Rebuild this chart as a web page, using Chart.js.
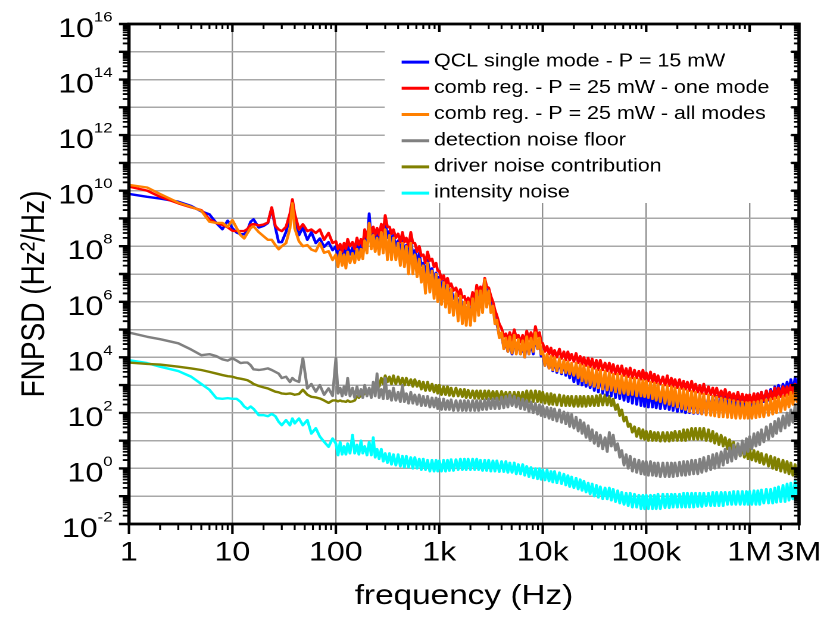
<!DOCTYPE html>
<html><head><meta charset="utf-8">
<script src="https://cdn.jsdelivr.net/npm/chart.js@4.4.1/dist/chart.umd.min.js"></script>
<style>
html,body{margin:0;padding:0;background:#fff;overflow:hidden;}
#wrap{width:692px;height:617px;transform:scaleX(1.19075);transform-origin:0 0;}
</style></head>
<body><div id="wrap"><canvas id="c" width="692" height="617"></canvas></div>
<script>
const frequencyHz = [
 1, 1.5, 2, 3, 4, 5, 6, 7, 8, 9,
 10, 11, 12, 13, 14, 15, 16, 18, 20, 22, 24, 26, 28, 30, 33, 36, 38,
 40, 44, 48, 53, 58, 64, 70, 77, 85, 93,
 100, 105, 110, 115, 120, 125, 130, 137, 145, 152,
 160, 167, 175, 182, 190, 200, 210, 220, 230, 240,
 250, 262, 275, 287, 300, 315, 330, 345, 360, 380,
 400, 420, 440, 460, 480, 505, 530, 555, 580, 610,
 640, 670, 700, 735, 770, 810, 850, 890, 930, 965,
 1.0e3, 1.05e3, 1.1e3, 1.15e3, 1.2e3, 1.25e3, 1.3e3, 1.37e3, 1.45e3, 1.52e3,
 1.6e3, 1.67e3, 1.75e3, 1.82e3, 1.9e3, 2.0e3, 2.1e3, 2.2e3, 2.3e3, 2.4e3,
 2.5e3, 2.62e3, 2.75e3, 2.87e3, 3.0e3, 3.15e3, 3.3e3, 3.45e3, 3.6e3, 3.8e3,
 4.0e3, 4.2e3, 4.4e3, 4.6e3, 4.8e3, 5.05e3, 5.3e3, 5.55e3, 5.8e3, 6.1e3,
 6.4e3, 6.7e3, 7.0e3, 7.35e3, 7.7e3, 8.1e3, 8.5e3, 8.9e3, 9.3e3, 9.65e3,
 1.0e4, 1.05e4, 1.1e4, 1.15e4, 1.2e4, 1.25e4, 1.3e4, 1.37e4, 1.45e4, 1.52e4,
 1.6e4, 1.67e4, 1.75e4, 1.82e4, 1.9e4, 2.0e4, 2.1e4, 2.2e4, 2.3e4, 2.4e4,
 2.5e4, 2.62e4, 2.75e4, 2.87e4, 3.0e4, 3.15e4, 3.3e4, 3.45e4, 3.6e4, 3.8e4,
 4.0e4, 4.2e4, 4.4e4, 4.6e4, 4.8e4, 5.05e4, 5.3e4, 5.55e4, 5.8e4, 6.1e4,
 6.4e4, 6.7e4, 7.0e4, 7.35e4, 7.7e4, 8.1e4, 8.5e4, 8.9e4, 9.3e4, 9.65e4,
 1.0e5, 1.05e5, 1.1e5, 1.15e5, 1.2e5, 1.25e5, 1.3e5, 1.37e5, 1.45e5, 1.52e5,
 1.6e5, 1.67e5, 1.75e5, 1.82e5, 1.9e5, 2.0e5, 2.1e5, 2.2e5, 2.3e5, 2.4e5,
 2.5e5, 2.62e5, 2.75e5, 2.87e5, 3.0e5, 3.15e5, 3.3e5, 3.45e5, 3.6e5, 3.8e5,
 4.0e5, 4.2e5, 4.4e5, 4.6e5, 4.8e5, 5.05e5, 5.3e5, 5.55e5, 5.8e5, 6.1e5,
 6.4e5, 6.7e5, 7.0e5, 7.35e5, 7.7e5, 8.1e5, 8.5e5, 8.9e5, 9.3e5, 9.65e5,
 1.0e6, 1.05e6, 1.1e6, 1.15e6, 1.2e6, 1.25e6, 1.3e6, 1.37e6, 1.45e6, 1.52e6,
 1.6e6, 1.67e6, 1.75e6, 1.82e6, 1.9e6, 2.0e6, 2.1e6, 2.2e6, 2.3e6, 2.4e6,
 2.5e6, 2.62e6, 2.75e6, 2.87e6, 3.0e6
];

const qclSingleMode = [
 7.6e9, 6.0e9, 5.2e9, 4.0e9, 2.8e9, 1.8e9, 1.4e9, 6.8e8, 4.1e8, 8.3e8,
 4.5e8, 3.1e8, 2.7e8, 2.7e8, 3.8e8, 7.6e8, 9.3e8, 4.7e8, 5.4e8, 6.8e8, 2.3e9, 4.7e8, 1.4e8, 1.4e8, 3.3e8, 1.1e9, 4.4e9,
 1.1e9, 2.5e8, 4.7e8, 1.7e8, 3.2e8, 1.3e8, 1.9e8, 9.5e7, 1.4e8, 7.2e7,
 1.0e8, 4.0e7, 8.0e7, 3.5e7, 7.9e7, 4.0e7, 1.1e8, 5.0e7, 8.9e7, 4.5e7,
 1.3e8, 6.3e7, 1.3e8, 6.3e7, 2.5e8, 1.0e8, 1.5e9, 1.6e8, 3.2e8, 1.3e8,
 3.2e8, 1.3e8, 4.0e8, 1.6e8, 1.0e9, 2.0e8, 3.5e8, 1.3e8, 2.5e8, 1.0e8,
 1.6e8, 6.3e7, 1.6e8, 6.3e7, 1.1e8, 4.0e7, 1.6e8, 5.0e7, 7.1e7, 2.5e7,
 5.6e7, 2.0e7, 2.5e7, 1.0e7, 3.2e7, 1.1e7, 1.6e7, 6.3e6, 1.1e7, 5.0e6,
 7.9e6, 3.2e6, 5.6e6, 2.5e6, 4.0e6, 1.8e6, 2.8e6, 1.3e6, 1.6e6, 7.9e5,
 1.4e6, 6.3e5, 7.9e5, 4.0e5, 7.1e5, 3.5e5, 1.1e6, 5.0e5, 2.5e6, 1.0e6,
 2.0e6, 1.0e6, 6.3e6, 2.0e6, 1.8e6, 7.9e5, 5.6e5, 2.5e5, 1.6e5, 6.3e4,
 5.6e4, 2.5e4, 3.5e4, 1.6e4, 4.0e4, 1.3e4, 4.5e4, 1.6e4, 3.2e4, 1.3e4,
 2.8e4, 1.0e4, 4.0e4, 1.3e4, 3.5e4, 1.3e4, 6.3e4, 2.0e4, 3.5e4, 1.1e4,
 1.3e4, 5.0e3, 1.1e4, 4.0e3, 1.0e4, 3.2e3, 8.9e3, 2.8e3, 7.9e3, 2.5e3,
 7.1e3, 2.2e3, 6.3e3, 1.8e3, 5.6e3, 1.3e3, 5.0e3, 1.1e3, 4.5e3, 1.0e3,
 4.0e3, 8.9e2, 3.5e3, 7.9e2, 3.2e3, 6.3e2, 3.0e3, 5.6e2, 2.8e3, 5.0e2,
 2.5e3, 4.2e2, 2.2e3, 4.0e2, 2.0e3, 3.5e2, 1.8e3, 3.2e2, 1.6e3, 2.8e2,
 1.4e3, 2.5e2, 1.3e3, 2.2e2, 1.2e3, 2.0e2, 1.1e3, 1.8e2, 1.0e3, 1.7e2,
 9.0e2, 1.6e2, 8.0e2, 1.6e2, 7.1e2, 1.5e2, 6.3e2, 1.4e2, 6.0e2, 1.4e2,
 5.6e2, 1.3e2, 5.0e2, 1.2e2, 4.5e2, 1.1e2, 4.5e2, 1.1e2, 4.0e2, 1.0e2,
 4.0e2, 1.0e2, 3.8e2, 9.5e1, 3.8e2, 9.5e1, 3.8e2, 9.1e1, 4.0e2, 9.5e1,
 4.0e2, 1.0e2, 4.0e2, 1.1e2, 4.0e2, 1.2e2, 4.0e2, 1.3e2, 4.0e2, 1.4e2,
 4.0e2, 1.5e2, 4.0e2, 1.6e2, 4.0e2, 1.7e2, 4.0e2, 1.8e2, 4.0e2, 1.8e2,
 4.0e2, 1.8e2, 4.5e2, 2.0e2, 5.0e2, 2.2e2, 5.6e2, 2.5e2, 6.3e2, 2.8e2,
 7.1e2, 3.2e2, 8.9e2, 3.5e2, 1.0e3, 4.0e2, 1.1e3, 4.5e2, 1.3e3, 5.6e2,
 1.6e3, 6.3e2, 1.8e3, 7.9e2, 2.2e3
];

const combOneMode = [
 1.4e10, 1.0e10, 6.0e9, 3.5e9, 2.5e9, 2.0e9, 9.3e8, 6.8e8, 5.9e8, 4.8e8,
 3.6e8, 3.5e8, 3.5e8, 3.5e8, 4.2e8, 5.9e8, 6.3e8, 5.6e8, 6.0e8, 7.1e8, 2.5e9, 5.4e8, 4.0e8, 3.5e8, 5.0e8, 1.5e9, 4.9e9,
 1.5e9, 4.0e8, 6.2e8, 3.5e8, 4.0e8, 3.0e8, 4.0e8, 1.7e8, 3.0e8, 1.3e8,
 1.5e8, 8.0e7, 1.2e8, 6.3e7, 1.3e8, 8.0e7, 1.8e8, 1.0e8, 1.4e8, 7.9e7,
 2.0e8, 1.1e8, 1.8e8, 1.0e8, 4.0e8, 2.0e8, 6.3e8, 3.0e8, 5.0e8, 2.5e8,
 4.5e8, 2.5e8, 6.3e8, 3.2e8, 1.3e9, 5.0e8, 5.0e8, 2.8e8, 4.0e8, 2.0e8,
 2.8e8, 1.4e8, 3.2e8, 1.4e8, 2.0e8, 1.0e8, 3.2e8, 1.3e8, 1.3e8, 6.3e7,
 1.0e8, 4.5e7, 5.0e7, 2.5e7, 6.3e7, 3.0e7, 3.5e7, 1.8e7, 2.5e7, 1.3e7,
 1.3e7, 6.3e6, 8.9e6, 4.5e6, 7.1e6, 3.5e6, 4.5e6, 2.5e6, 3.2e6, 1.6e6,
 2.8e6, 1.4e6, 1.6e6, 8.9e5, 1.4e6, 8.0e5, 2.2e6, 1.1e6, 4.0e6, 2.0e6,
 3.5e6, 1.8e6, 7.1e6, 3.5e6, 3.2e6, 1.6e6, 1.0e6, 5.0e5, 3.2e5, 1.6e5,
 1.1e5, 5.6e4, 7.1e4, 4.0e4, 7.9e4, 4.0e4, 1.0e5, 5.0e4, 6.3e4, 3.5e4,
 6.3e4, 3.2e4, 8.9e4, 4.5e4, 7.9e4, 4.0e4, 1.3e5, 5.6e4, 7.9e4, 3.5e4,
 3.2e4, 1.6e4, 2.5e4, 1.3e4, 2.2e4, 1.1e4, 1.8e4, 1.0e4, 2.0e4, 9.0e3,
 1.6e4, 8.0e3, 1.6e4, 7.9e3, 1.3e4, 7.1e3, 1.4e4, 6.3e3, 1.1e4, 5.6e3,
 1.0e4, 5.0e3, 9.5e3, 4.5e3, 8.9e3, 4.0e3, 7.9e3, 3.5e3, 7.9e3, 3.5e3,
 6.3e3, 3.2e3, 6.3e3, 2.8e3, 5.6e3, 2.5e3, 5.0e3, 2.5e3, 5.0e3, 2.2e3,
 4.0e3, 2.0e3, 4.2e3, 1.8e3, 3.5e3, 1.8e3, 3.2e3, 1.6e3, 3.5e3, 1.6e3,
 2.8e3, 1.4e3, 3.0e3, 1.3e3, 2.5e3, 1.2e3, 2.2e3, 1.1e3, 2.0e3, 1.0e3,
 2.2e3, 9.5e2, 1.8e3, 8.9e2, 1.6e3, 8.0e2, 1.6e3, 7.5e2, 1.4e3, 7.1e2,
 1.3e3, 6.3e2, 1.4e3, 6.0e2, 1.1e3, 5.6e2, 1.0e3, 5.0e2, 1.1e3, 4.8e2,
 8.9e2, 4.5e2, 8.0e2, 4.0e2, 7.9e2, 3.8e2, 6.3e2, 3.5e2, 7.1e2, 3.2e2,
 5.6e2, 3.0e2, 5.0e2, 2.8e2, 5.6e2, 2.6e2, 4.8e2, 2.5e2, 4.5e2, 2.4e2,
 4.5e2, 2.4e2, 5.0e2, 2.5e2, 5.0e2, 2.6e2, 5.6e2, 2.8e2, 6.3e2, 3.0e2,
 6.3e2, 3.2e2, 8.0e2, 3.5e2, 7.9e2, 3.8e2, 8.9e2, 4.0e2, 8.9e2, 4.5e2,
 1.0e3, 5.0e2, 1.1e3, 5.0e2, 1.0e3
];

const combAllModes = [
 1.6e10, 1.3e10, 7.6e9, 3.7e9, 2.6e9, 1.9e9, 7.6e8, 6.9e8, 6.9e8, 5.0e8,
 8.7e8, 4.5e8, 2.5e8, 1.9e8, 3.0e8, 4.5e8, 5.2e8, 3.2e8, 2.3e8, 1.7e8, 1.7e8, 1.1e8, 7.8e7, 1.0e8, 1.3e8, 4.4e8, 3.5e9,
 4.4e8, 1.5e8, 1.0e8, 1.1e8, 7.6e7, 6.6e7, 1.3e8, 5.8e7, 6.6e7, 3.2e7,
 5.0e7, 1.8e7, 6.3e7, 2.0e7, 5.0e7, 1.6e7, 6.3e7, 2.5e7, 5.6e7, 2.5e7,
 7.9e7, 3.2e7, 7.9e7, 3.5e7, 1.6e8, 5.6e7, 6.8e8, 7.9e7, 2.5e8, 6.3e7,
 2.0e8, 5.0e7, 3.2e8, 5.6e7, 4.0e8, 3.2e7, 2.5e8, 3.2e7, 2.0e8, 3.2e7,
 1.3e8, 2.0e7, 1.3e8, 1.8e7, 1.0e8, 1.0e7, 1.3e8, 1.0e7, 5.0e7, 7.9e6,
 3.5e7, 5.0e6, 2.0e7, 2.0e6, 2.5e7, 2.2e6, 1.3e7, 1.3e6, 1.0e7, 1.0e6,
 6.3e6, 7.9e5, 5.0e6, 6.3e5, 4.0e6, 4.0e5, 2.8e6, 3.2e5, 2.0e6, 2.0e5,
 1.6e6, 1.6e5, 1.0e6, 1.4e5, 1.0e6, 1.4e5, 1.3e6, 2.0e5, 2.5e6, 3.2e5,
 2.5e6, 4.0e5, 6.3e6, 6.3e5, 2.5e6, 4.0e5, 7.1e5, 1.6e5, 2.2e5, 5.0e4,
 7.9e4, 2.0e4, 5.0e4, 1.6e4, 5.6e4, 1.4e4, 6.3e4, 1.3e4, 4.5e4, 1.3e4,
 4.0e4, 1.0e4, 5.6e4, 1.3e4, 5.0e4, 1.6e4, 7.9e4, 2.0e4, 5.0e4, 1.3e4,
 1.6e4, 5.0e3, 1.3e4, 4.0e3, 1.1e4, 3.5e3, 1.0e4, 3.2e3, 8.9e3, 2.8e3,
 7.9e3, 2.8e3, 7.1e3, 2.5e3, 6.3e3, 2.2e3, 6.3e3, 1.8e3, 5.6e3, 1.4e3,
 5.0e3, 1.2e3, 4.5e3, 1.0e3, 4.0e3, 8.9e2, 3.5e3, 7.9e2, 3.5e3, 7.1e2,
 3.2e3, 6.6e2, 2.8e3, 6.3e2, 2.5e3, 5.6e2, 2.5e3, 5.0e2, 2.2e3, 5.0e2,
 2.0e3, 4.5e2, 1.8e3, 4.5e2, 1.8e3, 4.0e2, 1.6e3, 4.0e2, 1.5e3, 3.8e2,
 1.4e3, 3.5e2, 1.3e3, 3.2e2, 1.2e3, 2.8e2, 1.1e3, 2.5e2, 1.0e3, 2.2e2,
 9.5e2, 2.0e2, 8.9e2, 1.8e2, 8.0e2, 1.6e2, 7.5e2, 1.4e2, 7.1e2, 1.3e2,
 6.3e2, 1.1e2, 6.0e2, 1.0e2, 5.6e2, 1.0e2, 5.0e2, 9.0e1, 4.8e2, 8.3e1,
 4.5e2, 8.0e1, 4.0e2, 7.6e1, 3.8e2, 7.1e1, 3.5e2, 7.1e1, 3.2e2, 6.8e1,
 3.0e2, 6.6e1, 2.8e2, 6.3e1, 2.6e2, 6.3e1, 2.5e2, 6.3e1, 2.4e2, 6.3e1,
 2.4e2, 6.3e1, 2.5e2, 6.6e1, 2.6e2, 7.1e1, 2.8e2, 7.1e1, 3.0e2, 8.0e1,
 3.2e2, 8.9e1, 3.5e2, 1.0e2, 3.8e2, 1.1e2, 4.0e2, 1.3e2, 4.5e2, 1.6e2,
 5.6e2, 2.0e2, 6.3e2, 2.5e2, 8.9e2
];

const detectionNoiseFloor = [
 7.8e4, 5.5e4, 4.5e4, 3.2e4, 1.9e4, 1.2e4, 1.3e4, 1.1e4, 8.5e3, 7.6e3,
 9.3e3, 7.6e3, 6.2e3, 6.5e3, 6.5e3, 5.2e3, 3.7e3, 3.5e3, 3.7e3, 4.0e3, 3.5e3, 3.0e3, 2.6e3, 1.8e3, 2.0e3, 1.3e3, 1.8e3,
 1.5e3, 1.3e3, 9.3e3, 7.6e2, 1.1e3, 5.8e2, 1.0e3, 4.5e2, 7.6e2, 4.1e2,
 9.3e3, 5.0e2, 7.9e2, 4.0e2, 8.9e2, 4.5e2, 1.8e3, 4.0e2, 7.9e2, 3.5e2,
 8.9e2, 4.0e2, 7.1e2, 3.5e2, 1.0e3, 4.0e2, 7.9e2, 3.5e2, 1.3e3, 4.0e2,
 2.6e3, 3.5e2, 7.1e2, 3.2e2, 1.8e3, 3.2e2, 6.3e2, 2.8e2, 7.9e2, 2.8e2,
 5.6e2, 2.5e2, 1.0e3, 2.5e2, 5.0e2, 2.2e2, 5.6e2, 2.2e2, 4.5e2, 2.0e2,
 4.5e2, 1.8e2, 4.0e2, 1.8e2, 4.0e2, 1.6e2, 3.5e2, 1.6e2, 3.5e2, 1.4e2,
 3.2e2, 1.3e2, 3.2e2, 1.3e2, 2.8e2, 1.3e2, 3.0e2, 1.2e2, 2.8e2, 1.2e2,
 2.8e2, 1.2e2, 2.8e2, 1.2e2, 2.8e2, 1.2e2, 2.8e2, 1.2e2, 2.8e2, 1.2e2,
 2.8e2, 1.3e2, 3.0e2, 1.3e2, 3.2e2, 1.4e2, 3.2e2, 1.4e2, 3.5e2, 1.4e2,
 3.8e2, 1.5e2, 4.0e2, 1.6e2, 4.5e2, 1.8e2, 4.0e2, 1.6e2, 3.5e2, 1.4e2,
 3.2e2, 1.3e2, 2.8e2, 1.1e2, 2.5e2, 1.0e2, 2.2e2, 8.9e1, 2.0e2, 7.9e1,
 1.8e2, 7.1e1, 1.6e2, 6.3e1, 1.5e2, 5.6e1, 1.4e2, 5.0e1, 1.3e2, 4.5e1,
 1.1e2, 4.0e1, 1.0e2, 3.2e1, 8.9e1, 2.8e1, 7.1e1, 2.2e1, 5.6e1, 1.8e1,
 4.5e1, 1.3e1, 3.5e1, 1.0e1, 2.5e1, 7.9, 2.0e1, 6.3, 1.6e1, 5.0,
 1.3e1, 4.0, 2.0e1, 6.3, 1.6e1, 4.5, 7.9, 2.5, 4.5, 1.3,
 3.2, 1.0, 2.8, 0.79, 2.2, 0.71, 2.0, 0.63, 1.8, 0.6,
 1.8, 0.56, 1.8, 0.56, 1.6, 0.53, 1.6, 0.5, 1.6, 0.5,
 1.6, 0.5, 1.6, 0.5, 1.6, 0.53, 1.7, 0.56, 1.8, 0.56,
 1.8, 0.6, 2.0, 0.63, 2.0, 0.63, 2.2, 0.71, 2.5, 0.79,
 2.8, 0.89, 3.2, 1.0, 3.5, 1.1, 4.0, 1.3, 5.0, 1.6,
 5.6, 1.8, 7.1, 2.2, 7.9, 2.8, 1.0e1, 3.2, 1.2e1, 4.0,
 1.4e1, 5.0, 1.8e1, 6.3, 2.0e1, 7.1, 2.5e1, 8.9, 3.2e1, 1.1e1,
 4.0e1, 1.4e1, 5.0e1, 1.8e1, 6.3e1, 2.2e1, 7.9e1, 2.8e1, 1.0e2, 3.5e1,
 1.3e2, 4.5e1, 1.8e2, 6.3e1, 2.5e2
];

const driverNoise = [
 6.5e3, 5.8e3, 5.5e3, 4.6e3, 4.0e3, 3.5e3, 3.0e3, 2.6e3, 2.3e3, 2.1e3,
 2.0e3, 1.8e3, 1.7e3, 1.6e3, 1.5e3, 1.3e3, 1.1e3, 9.3e2, 8.3e2, 7.6e2, 6.6e2, 5.8e2, 5.5e2, 5.0e2, 4.8e2, 5.0e2, 4.8e2,
 4.5e2, 4.8e2, 6.8e2, 4.5e2, 3.8e2, 3.6e2, 3.3e2, 2.8e2, 2.3e2, 2.8e2,
 2.8e2, 2.6e2, 2.8e2, 2.6e2, 2.6e2, 2.5e2, 2.8e2, 2.5e2, 2.6e2, 2.8e2,
 4.0e2, 3.5e2, 4.5e2, 4.0e2, 5.6e2, 4.5e2, 6.3e2, 5.0e2, 8.9e2, 6.3e2,
 1.3e3, 8.9e2, 1.8e3, 1.1e3, 2.2e3, 1.3e3, 2.0e3, 1.1e3, 2.2e3, 1.1e3,
 2.0e3, 1.1e3, 1.8e3, 1.0e3, 1.8e3, 1.0e3, 1.6e3, 8.9e2, 1.6e3, 8.9e2,
 1.4e3, 7.1e2, 1.3e3, 6.3e2, 1.3e3, 6.3e2, 1.1e3, 5.6e2, 1.0e3, 5.0e2,
 1.0e3, 4.5e2, 8.9e2, 4.5e2, 8.9e2, 4.2e2, 7.9e2, 4.0e2, 7.9e2, 4.0e2,
 7.1e2, 3.8e2, 7.1e2, 3.5e2, 6.6e2, 3.5e2, 6.3e2, 3.3e2, 6.3e2, 3.3e2,
 6.3e2, 3.2e2, 6.3e2, 3.2e2, 6.3e2, 3.2e2, 6.0e2, 3.2e2, 6.0e2, 3.0e2,
 6.0e2, 3.0e2, 5.6e2, 3.0e2, 5.6e2, 2.8e2, 5.6e2, 2.8e2, 5.6e2, 2.6e2,
 5.6e2, 2.5e2, 6.3e2, 2.5e2, 6.3e2, 2.5e2, 6.3e2, 2.5e2, 6.0e2, 2.4e2,
 5.6e2, 2.2e2, 5.0e2, 2.0e2, 5.0e2, 2.0e2, 4.5e2, 1.9e2, 4.5e2, 1.8e2,
 4.2e2, 1.8e2, 4.0e2, 1.8e2, 4.0e2, 1.7e2, 4.0e2, 1.7e2, 4.0e2, 1.7e2,
 4.0e2, 1.7e2, 4.0e2, 1.8e2, 4.0e2, 1.8e2, 4.2e2, 1.8e2, 4.5e2, 1.9e2,
 4.5e2, 1.9e2, 4.0e2, 1.8e2, 3.2e2, 1.3e2, 2.0e2, 7.9e1, 1.3e2, 5.0e1,
 7.1e1, 3.2e1, 4.0e1, 2.0e1, 3.2e1, 1.4e1, 2.8e1, 1.2e1, 2.5e1, 1.1e1,
 2.2e1, 1.0e1, 2.2e1, 1.0e1, 2.0e1, 1.0e1, 2.0e1, 9.5, 2.0e1, 9.5,
 2.0e1, 9.5, 2.0e1, 1.0e1, 2.2e1, 1.0e1, 2.2e1, 1.0e1, 2.5e1, 1.0e1,
 2.5e1, 1.1e1, 2.8e1, 1.1e1, 2.8e1, 1.1e1, 2.8e1, 1.1e1, 2.8e1, 1.0e1,
 2.5e1, 9.5, 2.2e1, 8.0, 1.8e1, 7.1, 1.6e1, 6.3, 1.3e1, 5.0,
 1.1e1, 4.0, 8.9, 3.2, 7.9, 2.8, 6.3, 2.5, 5.6, 2.2,
 5.0, 2.0, 4.5, 1.8, 4.0, 1.6, 3.5, 1.4, 3.2, 1.2,
 2.8, 1.0, 2.5, 0.89, 2.2, 0.79, 2.0, 0.71, 1.8, 0.63,
 1.6, 0.56, 1.4, 0.5, 1.1
];

const intensityNoise = [
 7.9e3, 6.2e3, 4.6e3, 3.2e3, 2.0e3, 1.1e3, 6.8e2, 3.4e2, 3.2e2, 3.4e2,
 3.2e2, 3.2e2, 2.5e2, 1.7e2, 1.4e2, 1.7e2, 1.4e2, 8.3e1, 8.3e1, 7.6e1, 9.1e1, 7.6e1, 4.8e1, 3.6e1, 5.5e1, 3.6e1, 6.3e1,
 4.2e1, 6.3e1, 3.6e1, 5.5e1, 1.8e1, 2.8e1, 1.4e1, 9.1, 6.0, 1.2e1,
 7.9, 3.0, 8.9, 3.2, 6.3, 3.2, 7.9, 3.5, 1.6e1, 3.5,
 7.1, 3.2, 1.0e1, 3.5, 6.3, 3.0, 8.9, 3.0, 1.3e1, 2.5,
 5.0, 2.2, 5.0, 1.8, 3.5, 1.6, 3.5, 1.4, 3.2, 1.3,
 3.2, 1.2, 2.8, 1.1, 2.8, 1.1, 2.5, 1.0, 2.5, 1.0,
 2.2, 0.89, 2.2, 0.89, 2.0, 0.79, 2.0, 0.79, 2.0, 0.79,
 1.9, 0.79, 2.0, 0.79, 2.0, 0.83, 2.1, 0.83, 2.1, 0.89,
 2.2, 0.89, 2.2, 0.89, 2.2, 0.89, 2.2, 0.89, 2.2, 0.89,
 2.0, 0.83, 2.0, 0.83, 2.0, 0.79, 1.9, 0.79, 1.9, 0.76,
 1.8, 0.76, 1.8, 0.71, 1.6, 0.71, 1.6, 0.63, 1.4, 0.63,
 1.4, 0.56, 1.2, 0.5, 1.1, 0.45, 1.0, 0.42, 1.0, 0.4,
 0.89, 0.38, 0.89, 0.35, 0.79, 0.32, 0.79, 0.3, 0.71, 0.28,
 0.63, 0.25, 0.56, 0.22, 0.5, 0.2, 0.45, 0.18, 0.4, 0.16,
 0.35, 0.14, 0.3, 0.12, 0.28, 0.1, 0.25, 0.09, 0.22, 0.08,
 0.2, 0.079, 0.2, 0.071, 0.18, 0.063, 0.16, 0.056, 0.14, 0.05,
 0.13, 0.045, 0.13, 0.04, 0.12, 0.04, 0.11, 0.035, 0.11, 0.035,
 0.11, 0.035, 0.11, 0.035, 0.11, 0.035, 0.12, 0.035, 0.12, 0.038,
 0.12, 0.038, 0.12, 0.04, 0.12, 0.04, 0.12, 0.04, 0.13, 0.04,
 0.13, 0.04, 0.13, 0.04, 0.13, 0.042, 0.13, 0.042, 0.13, 0.045,
 0.13, 0.045, 0.14, 0.045, 0.14, 0.045, 0.14, 0.045, 0.14, 0.05,
 0.14, 0.05, 0.15, 0.05, 0.15, 0.05, 0.15, 0.05, 0.15, 0.05,
 0.15, 0.05, 0.16, 0.05, 0.16, 0.05, 0.17, 0.056, 0.18, 0.056,
 0.18, 0.056, 0.2, 0.06, 0.22, 0.063, 0.25, 0.063, 0.28, 0.071,
 0.3, 0.079, 0.35, 0.09, 0.3
];

const seriesNames = [
 'QCL single mode - P = 15 mW',
 'comb reg. - P = 25 mW - one mode',
 'comb reg. - P = 25 mW - all modes',
 'detection noise floor',
 'driver noise contribution',
 'intensity noise'
];
const seriesColors = ['#0000ff', '#ff0000', '#ff8000', '#808080', '#808000', '#00ffff'];
const seriesValues = [qclSingleMode, combOneMode, combAllModes, detectionNoiseFloor, driverNoise, intensityNoise];
const seriesDrawOrder = [2, 1, 0, 3, 4, 5];

const xTickValues = [1, 10, 100, 1e3, 1e4, 1e5, 1e6, 3e6];
const xTickLabels = ['1', '10', '100', '1k', '10k', '100k', '1M', '3M'];
const yGridExponents = [-2, -1, 0, 1, 2, 3, 4, 5, 6, 7, 8, 9, 10, 11, 12, 13, 14, 15, 16];
const yLabelExponents = [16, 14, 12, 10, 8, 6, 4, 2, 0, -2];

const FONT = '"Liberation Sans", Arial, Helvetica, sans-serif';
Chart.defaults.font.family = FONT;
Chart.defaults.color = '#000';

const overlay = {
  id: 'overlay',
  afterDraw(chart) {
    const { ctx, chartArea: a, scales } = chart;
    const xs = scales.x, ys = scales.y;
    ctx.save();
    // legend panel
    ctx.fillStyle = '#fff';
    ctx.fillRect(323, a.top + 1.5, 663.5 - 323, 203 - a.top - 1.5);
    ctx.font = '18px ' + FONT;
    ctx.textAlign = 'left';
    ctx.textBaseline = 'alphabetic';
    seriesNames.forEach((name, i) => {
      const base = 66.7 + i * 26.2;
      ctx.strokeStyle = seriesColors[i];
      ctx.lineWidth = 3;
      ctx.beginPath();
      ctx.moveTo(337.3, base - 4.6);
      ctx.lineTo(360.5, base - 4.6);
      ctx.stroke();
      ctx.fillStyle = '#000';
      ctx.fillText(name, 364.5, base);
    });
    // tick marks
    ctx.strokeStyle = '#000';
    for (let e = -2; e <= 16; e++) {
      for (let m = 1; m <= 9; m++) {
        const v = m * Math.pow(10, e);
        if (v > 1e16 * 1.0001) break;
        const py = ys.getPixelForValue(v);
        const major = m === 1;
        ctx.lineWidth = major ? 2.4 : 1.8;
        const lo = major ? 8.4 : 5.2;
        const li = major ? 6.5 : 4.2;
        ctx.beginPath();
        ctx.moveTo(a.left - lo, py); ctx.lineTo(a.left, py);
        ctx.moveTo(a.right, py); ctx.lineTo(a.right - li, py);
        ctx.stroke();
      }
    }
    for (let e = 0; e <= 6; e++) {
      for (let m = 1; m <= 9; m++) {
        const v = m * Math.pow(10, e);
        if (v > 3e6 * 1.0001) break;
        const px = xs.getPixelForValue(v);
        const major = m === 1;
        ctx.lineWidth = major ? 2.1 : 1.6;
        const lo = major ? 10 : 6;
        const li = major ? 8 : 5;
        ctx.beginPath();
        ctx.moveTo(px, a.bottom); ctx.lineTo(px, a.bottom + lo);
        ctx.moveTo(px, a.top); ctx.lineTo(px, a.top + li);
        ctx.stroke();
      }
    }
    // frame
    ctx.lineWidth = 2.8;
    ctx.strokeRect(a.left, a.top, a.right - a.left, a.bottom - a.top);
    // y tick labels with superscript exponents
    ctx.fillStyle = '#000';
    ctx.textBaseline = 'alphabetic';
    yLabelExponents.forEach(e => {
      const py = ys.getPixelForValue(Math.pow(10, e));
      const exp = e < 0 ? '-' + Math.abs(e) : String(e);
      ctx.font = '14px ' + FONT;
      const ew = ctx.measureText(exp).width;
      const xr = 94.5;
      ctx.textAlign = 'left';
      ctx.fillText(exp, xr - ew, py - 2.5);
      ctx.font = '27px ' + FONT;
      ctx.textAlign = 'right';
      ctx.fillText('10', xr - ew, py + 13);
    });
    // y axis title
    ctx.translate(29.5, 294);
    ctx.rotate(-Math.PI / 2);
    ctx.font = '28px ' + FONT;
    ctx.textAlign = 'center';
    ctx.textBaseline = 'middle';
    ctx.fillText('FNPSD (Hz\u00B2/Hz)', 0, 0);
    ctx.restore();
  }
};

const datasets = seriesNames.map((name, i) => ({
  label: name,
  data: frequencyHz.map((f, k) => ({ x: f, y: seriesValues[i][k] })),
  borderColor: seriesColors[i],
  backgroundColor: seriesColors[i],
  borderWidth: 2.4,
  borderJoinStyle: 'round',
  borderCapStyle: 'round',
  pointRadius: 0,
  tension: 0,
  fill: false,
  order: seriesDrawOrder[i]
}));

new Chart(document.getElementById('c'), {
  type: 'line',
  data: { datasets },
  options: {
    responsive: false,
    animation: false,
    devicePixelRatio: 2,
    layout: { padding: { left: 0, top: 24, right: 21, bottom: 0 } },
    plugins: { legend: { display: false }, tooltip: { enabled: false } },
    scales: {
      x: {
        type: 'logarithmic',
        position: 'bottom',
        min: 1,
        max: 3e6,
        afterBuildTicks: s => { s.ticks = xTickValues.map(v => ({ value: v })); },
        afterFit: s => { s.height = 93; s.paddingLeft = 0; s.paddingRight = 0; },
        ticks: {
          callback: (v, i) => xTickLabels[i],
          font: { size: 27 },
          color: '#000',
          padding: 13,
          maxRotation: 0,
          minRotation: 0,
          autoSkip: false
        },
        grid: {
          color: c => (c.tick && c.tick.value >= 3e6) ? 'rgba(0,0,0,0)' : '#909090',
          lineWidth: 1.2,
          drawTicks: false
        },
        border: { display: false },
        title: {
          display: true,
          text: 'frequency (Hz)',
          font: { size: 28 },
          color: '#000',
          padding: { top: 0, bottom: 4 }
        }
      },
      y: {
        type: 'logarithmic',
        position: 'left',
        min: 1e-2,
        max: 1e16,
        afterBuildTicks: s => { s.ticks = yGridExponents.map(e => ({ value: Math.pow(10, e) })); },
        afterFit: s => { s.width = 108.3; s.paddingTop = 0; s.paddingBottom = 0; },
        ticks: { display: false },
        grid: { color: '#a8a8a8', lineWidth: 1.5, drawTicks: false },
        border: { display: false }
      }
    }
  },
  plugins: [overlay]
});
</script>
</body></html>
